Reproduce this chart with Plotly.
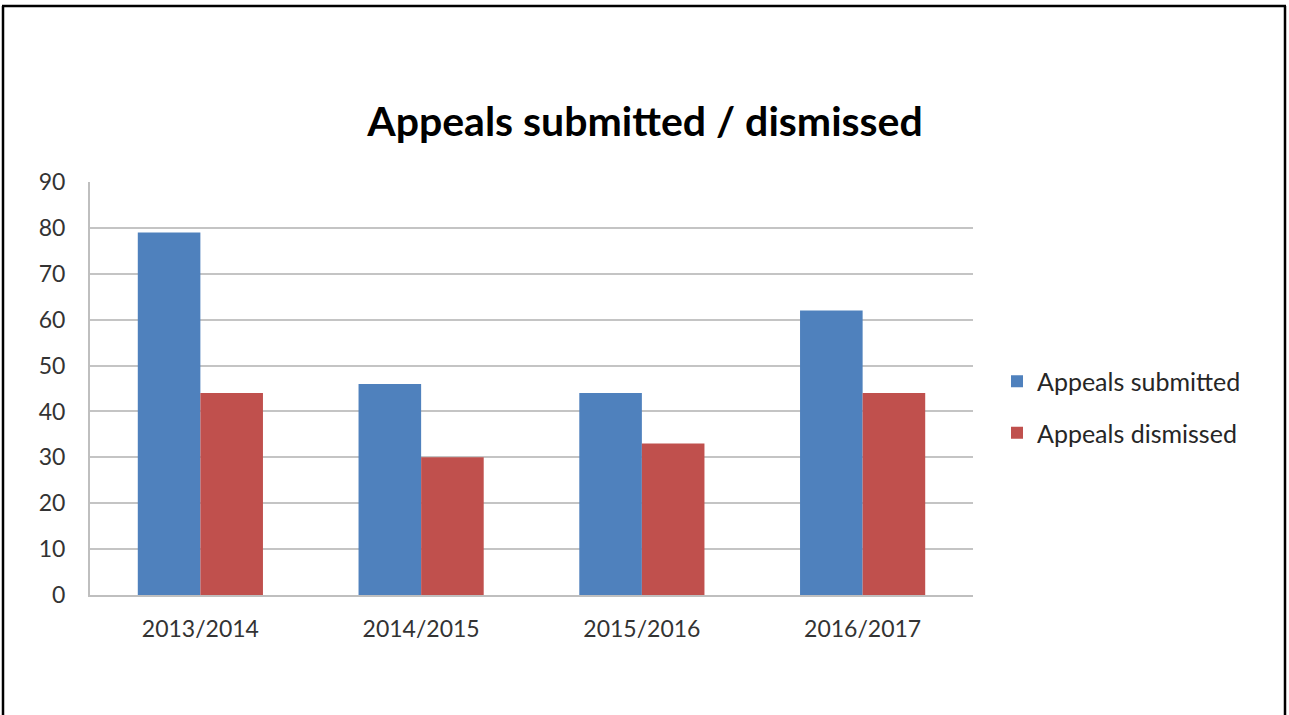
import plotly.graph_objects as go

categories = ["2013/2014", "2014/2015", "2015/2016", "2016/2017"]
submitted = [79, 46, 44, 62]
dismissed = [44, 30, 33, 44]
series_names = ["Appeals submitted", "Appeals dismissed"]
title_text = "Appeals submitted / dismissed"
y_ticks = [0, 10, 20, 30, 40, 50, 60, 70, 80, 90]

W, H = 1289, 715
L, R, T, B = 90, 973, 182, 595

fig = go.Figure()
fig.add_trace(go.Bar(x=categories, y=submitted, name=series_names[0], legendgroup="a",
                     marker=dict(color="#4F81BD", line=dict(width=0))))
fig.add_trace(go.Bar(x=categories, y=dismissed, name=series_names[1], legendgroup="b",
                     marker=dict(color="#C0504D", line=dict(width=0))))

def px_x(p):
    return (p - L) / (R - L)

def px_y(p):
    return (B - p) / (B - T)

border = dict(type="line", xref="paper", yref="paper",
              line=dict(color="black", width=2.5))
fig.add_shape(**border, x0=px_x(3), x1=px_x(3), y0=px_y(6), y1=px_y(720))
fig.add_shape(**border, x0=px_x(1285), x1=px_x(1285), y0=px_y(6), y1=px_y(720))
fig.add_shape(**border, x0=px_x(2), x1=px_x(1286), y0=px_y(6), y1=px_y(6))

fig.update_layout(
    width=W, height=H,
    margin=dict(l=L, r=W - R, t=T, b=H - B, pad=0),
    paper_bgcolor="white", plot_bgcolor="white",
    barmode="group", bargap=0.433, bargroupgap=0,
    font=dict(family="Lato, Open Sans, sans-serif", color="#333333", size=23),
    title=dict(text="<b>" + title_text + "</b>", x=645 / W, xanchor="center",
               y=1 - 122 / H, yanchor="middle",
               font=dict(size=41, color="black", family="Lato, Open Sans, sans-serif")),
    legend=dict(x=px_x(997), xanchor="left", y=px_y(407), yanchor="middle",
                font=dict(size=25, color="#262626"), tracegroupgap=16,
                traceorder="grouped", itemsizing="constant",
                bgcolor="rgba(0,0,0,0)"),
    showlegend=True,
)
fig.update_xaxes(showgrid=False, showline=True, linecolor="#bfbfbf", linewidth=2,
                 ticks="", tickfont=dict(size=23, color="#333333"), fixedrange=True,
                 ticklabelstandoff=12)
fig.update_yaxes(range=[0, 90], tickvals=y_ticks, showgrid=True, gridcolor="#c4c4c4",
                 gridwidth=2, showline=True, linecolor="#bfbfbf", linewidth=2,
                 zeroline=False, ticks="", tickfont=dict(size=23, color="#333333"),
                 ticklabelstandoff=18, fixedrange=True)

fig.write_html("out.html", config={"displayModeBar": False},
               post_script="document.body.style.margin='0';")
